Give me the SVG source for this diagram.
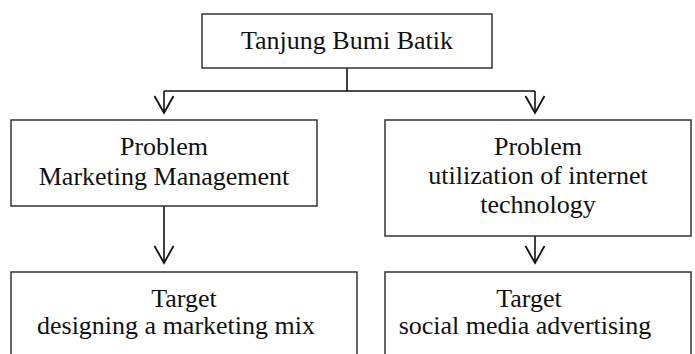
<svg xmlns="http://www.w3.org/2000/svg" width="695" height="354" viewBox="0 0 695 354">
<defs>
<style>
.box{fill:#fff;stroke:#333;stroke-width:1.5}
.t{font-family:"Liberation Serif","Times New Roman",serif;font-size:26px;fill:#111;text-anchor:middle}
.c{fill:none;stroke:#111;stroke-width:1.6}
</style>
<marker id="arr" markerUnits="userSpaceOnUse" markerWidth="24" markerHeight="24" refX="0" refY="0" viewBox="-20 -12 24 24" orient="auto" overflow="visible">
<path d="M-17,-9.5 L0,0 L-17,9.5" fill="none" stroke="#111" stroke-width="1.8"/>
</marker>
</defs>
<rect width="695" height="354" fill="#fff"/>
<g id="connectors">
<path class="c" d="M347,68 V91"/>
<path class="c" d="M164,91 H535"/>
<path class="c" d="M164,91 V113" marker-end="url(#arr)"/>
<path class="c" d="M535,91 V113" marker-end="url(#arr)"/>
<path class="c" d="M164,206 V263" marker-end="url(#arr)"/>
<path class="c" d="M535,236 V263" marker-end="url(#arr)"/>
</g>
<g id="top">
<rect class="box" x="202" y="14" width="290" height="54"/>
<text class="t" x="347" y="49">Tanjung Bumi Batik</text>
</g>
<g id="problem-left">
<rect class="box" x="11" y="120" width="306" height="86"/>
<text class="t" x="164" y="155">Problem</text>
<text class="t" x="164" y="185">Marketing Management</text>
</g>
<g id="problem-right">
<rect class="box" x="385" y="120" width="306" height="116"/>
<text class="t" x="538" y="155">Problem</text>
<text class="t" x="538" y="184">utilization of internet</text>
<text class="t" x="538" y="213">technology</text>
</g>
<g id="target-left">
<path class="box" d="M11,360 V272 H357 V360"/>
<text class="t" x="184" y="306.5">Target</text>
<text class="t" x="176" y="334">designing a marketing mix</text>
</g>
<g id="target-right">
<path class="box" d="M385,360 V272 H691 V360"/>
<text class="t" x="529" y="306.5">Target</text>
<text class="t" x="525" y="334">social media advertising</text>
</g>
</svg>
